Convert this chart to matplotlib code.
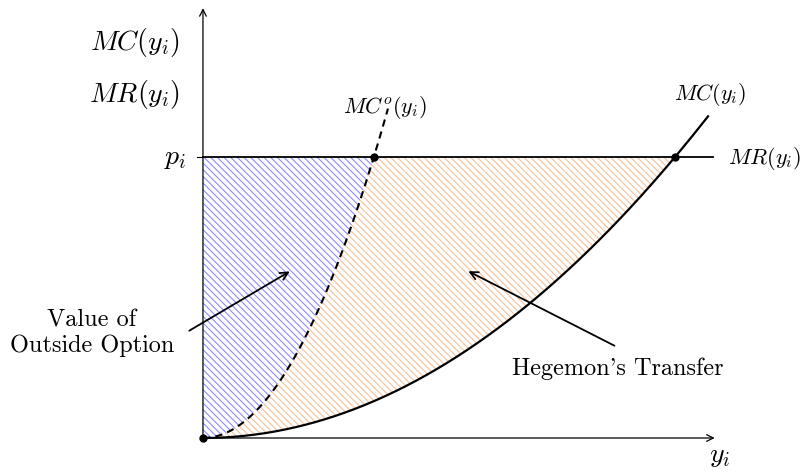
import numpy as np
import matplotlib
matplotlib.use('Agg')
import matplotlib.pyplot as plt

plt.rcParams.update({
    'mathtext.fontset': 'cm',
    'hatch.linewidth': 0.8,
})

# price level and where each marginal cost curve meets it
p_i = 1.0
y_mc_star = 1.0      # MC(y) = MR
y_mco_star = 0.362   # MC^o(y) = MR
y_mc_end = 1.07
y_mco_end = 0.392
x_axis_end = 1.09
y_axis_end = 1.54

def mc(y): return p_i * (y / y_mc_star) ** 2
def mco(y): return p_i * (y / y_mco_star) ** 2

fig = plt.figure(figsize=(8.01, 4.73), dpi=100)
ax = fig.add_axes([0, 0, 1, 1])
ax.set_xlim(-0.430, 1.267)
ax.set_ylim(-0.1246, 1.559)
ax.axis('off')

# hatched areas
hatch = '\\' * 5
yy = np.linspace(0, y_mco_star, 200)
ax.fill_between(yy, mco(yy), p_i, facecolor='none', edgecolor='#8c8cff',
                hatch=hatch, linewidth=0)
y2 = np.linspace(0, y_mc_star, 400)
lower = mc(y2)
upper = np.where(y2 < y_mco_star, np.minimum(mco(y2), p_i), p_i)
ax.fill_between(y2, lower, upper, facecolor='none', edgecolor='#f5c09a',
                hatch=hatch, linewidth=0)

# axes with arrows
arw = dict(arrowstyle='->', lw=0.9, color='black', mutation_scale=12)
ax.annotate('', xy=(0, y_axis_end), xytext=(0, 0), arrowprops=arw)
ax.annotate('', xy=(x_axis_end, 0), xytext=(0, 0), arrowprops=arw)
ax.plot([-0.013, 0], [p_i, p_i], color='black', lw=0.8)

# MR and the two MC curves
ax.plot([0, 1.08], [p_i, p_i], color='black', lw=1.3)
ym = np.linspace(0, y_mc_end, 200)
ax.plot(ym, mc(ym), color='black', lw=1.6)
yo = np.linspace(0, y_mco_end, 200)
ax.plot(yo, mco(yo), color='black', lw=1.5, ls=(0, (3.5, 2.5)))

ax.plot([0, y_mco_star, y_mc_star], [0, p_i, p_i], 'o', color='black', ms=5)

# labels
ax.text(-0.144, 1.409, r'$MC(y_i)$', fontsize=20, ha='center', va='center')
ax.text(-0.144, 1.221, r'$MR(y_i)$', fontsize=20, ha='center', va='center')
ax.text(-0.035, p_i, r'$p_i$', fontsize=20, ha='right', va='center')
ax.text(0.386, 1.178, r'$MC^o(y_i)$', fontsize=16, ha='center', va='center')
ax.text(1.074, 1.221, r'$MC(y_i)$', fontsize=16, ha='center', va='center')
ax.text(1.112, 0.996, r'$MR(y_i)$', fontsize=16, ha='left', va='center')
ax.text(1.095, -0.062, r'$y_i$', fontsize=20, ha='center', va='center')

ax.text(-0.235, 0.374, 'Value of\nOutside Option', fontsize=17.5,
        family='cmr10', ha='center', va='center', linespacing=1.15)
ax.text(0.879, 0.247, "Hegemon's Transfer", fontsize=17.5,
        family='cmr10', ha='center', va='center')

parw = dict(arrowstyle='->', lw=1.3, color='black', mutation_scale=14)
ax.annotate('', xy=(0.189, 0.598), xytext=(-0.034, 0.377), arrowprops=parw)
ax.annotate('', xy=(0.557, 0.598), xytext=(0.877, 0.324), arrowprops=parw)

fig.savefig('out.png', dpi=100)
